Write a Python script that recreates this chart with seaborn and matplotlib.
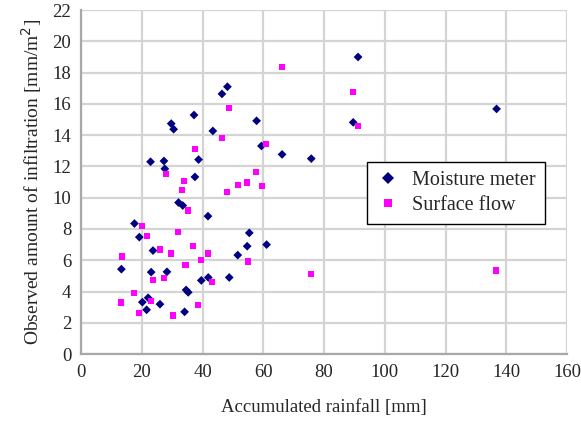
import numpy as np
import pandas as pd
import matplotlib
matplotlib.use("Agg")
import matplotlib.pyplot as plt
import seaborn as sns

# Moisture meter readings: accumulated rainfall [mm] vs infiltration [mm/m2]
moisture_rain = [13.3, 17.6, 19.2, 20.2, 21.6, 22.1, 22.9, 23.1, 23.7, 26.0,
                 27.3, 27.6, 28.3, 29.7, 30.5, 32.1, 33.5, 34.1, 34.6, 35.3,
                 37.2, 37.5, 38.7, 39.6, 41.8, 41.9, 43.4, 46.4, 48.2, 48.8,
                 51.6, 54.7, 55.4, 57.8, 59.4, 61.1, 66.2, 75.8, 89.6, 91.2,
                 136.8]
moisture_infil = [5.43, 8.35, 7.48, 3.32, 2.83, 3.60, 12.30, 5.24, 6.62, 3.19,
                  12.35, 11.85, 5.26, 14.74, 14.38, 9.69, 9.50, 2.70, 4.10, 3.95,
                  15.29, 11.33, 12.44, 4.71, 8.82, 4.90, 14.27, 16.64, 17.10, 4.90,
                  6.33, 6.90, 7.75, 14.92, 13.31, 7.00, 12.77, 12.50, 14.82, 19.00,
                  15.68]

# Surface flow readings
surface_rain = [13.6, 13.2, 17.5, 19.1, 20.1, 21.6, 23.0, 23.7, 25.9, 27.2,
                28.0, 29.6, 30.3, 32.0, 33.3, 34.0, 34.4, 35.1, 36.9, 37.4,
                38.6, 39.6, 41.7, 43.2, 46.3, 48.1, 48.6, 51.6, 54.6, 55.0,
                57.6, 59.5, 60.9, 66.2, 75.7, 89.6, 91.1, 136.6]
surface_infil = [6.24, 3.30, 3.90, 2.62, 8.18, 7.56, 3.37, 4.73, 6.69, 4.88,
                 11.52, 6.43, 2.47, 7.82, 10.48, 11.05, 5.69, 9.18, 6.92, 13.10,
                 3.13, 6.03, 6.43, 4.60, 13.82, 10.35, 15.76, 10.80, 10.97, 5.92,
                 11.63, 10.73, 13.44, 18.36, 5.13, 16.74, 14.59, 5.35]

series_names = ["Moisture meter", "Surface flow"]
x_ticks = list(range(0, 161, 20))
y_ticks = list(range(0, 23, 2))

df = pd.DataFrame({
    "rain": moisture_rain + surface_rain,
    "infil": moisture_infil + surface_infil,
    "series": [series_names[0]] * len(moisture_rain) + [series_names[1]] * len(surface_rain),
})

sns.set_style("white")
plt.rcParams["font.family"] = ["Liberation Serif", "DejaVu Serif"]

fig = plt.figure(figsize=(5.81, 4.21), dpi=100)
ax = fig.add_axes([0.1394, 0.159, 0.8366, 0.817])

ax.grid(True, color="#d4d4d4", linewidth=1.6, zorder=0)
ax.set_axisbelow(True)

sns.scatterplot(data=df, x="rain", y="infil", hue="series", style="series",
                palette={series_names[0]: "#000080", series_names[1]: "#FF00FF"},
                markers={series_names[0]: "D", series_names[1]: "s"},
                s=20, linewidth=0, ax=ax, zorder=3)

ax.set_xlim(0, 160)
ax.set_ylim(0, 22)
ax.set_xticks(x_ticks)
ax.set_yticks(y_ticks)
ax.tick_params(axis="both", labelsize=13.5, length=3, color="#b0b0b0", width=1.2,
               direction="out", pad=4)
for side in ["top", "right"]:
    ax.spines[side].set_visible(False)
for side in ["left", "bottom"]:
    ax.spines[side].set_color("#a8a8a8")
    ax.spines[side].set_linewidth(1.6)

ax.set_xlabel("Accumulated rainfall [mm]", fontsize=13.5, labelpad=13)
ax.set_ylabel("Observed amount of infiltration [mm/m$^2$]", fontsize=14, labelpad=6)

leg = ax.legend(loc="upper left", bbox_to_anchor=(0.588, 0.558), fontsize=14.5,
                frameon=True, fancybox=False, edgecolor="black", framealpha=1,
                handletextpad=0.6, handlelength=1.2, borderpad=0.45,
                labelspacing=0.3, borderaxespad=0, markerscale=1.4, title=None)
leg.get_frame().set_linewidth(1.0)

fig.savefig("out.png", dpi=100)
